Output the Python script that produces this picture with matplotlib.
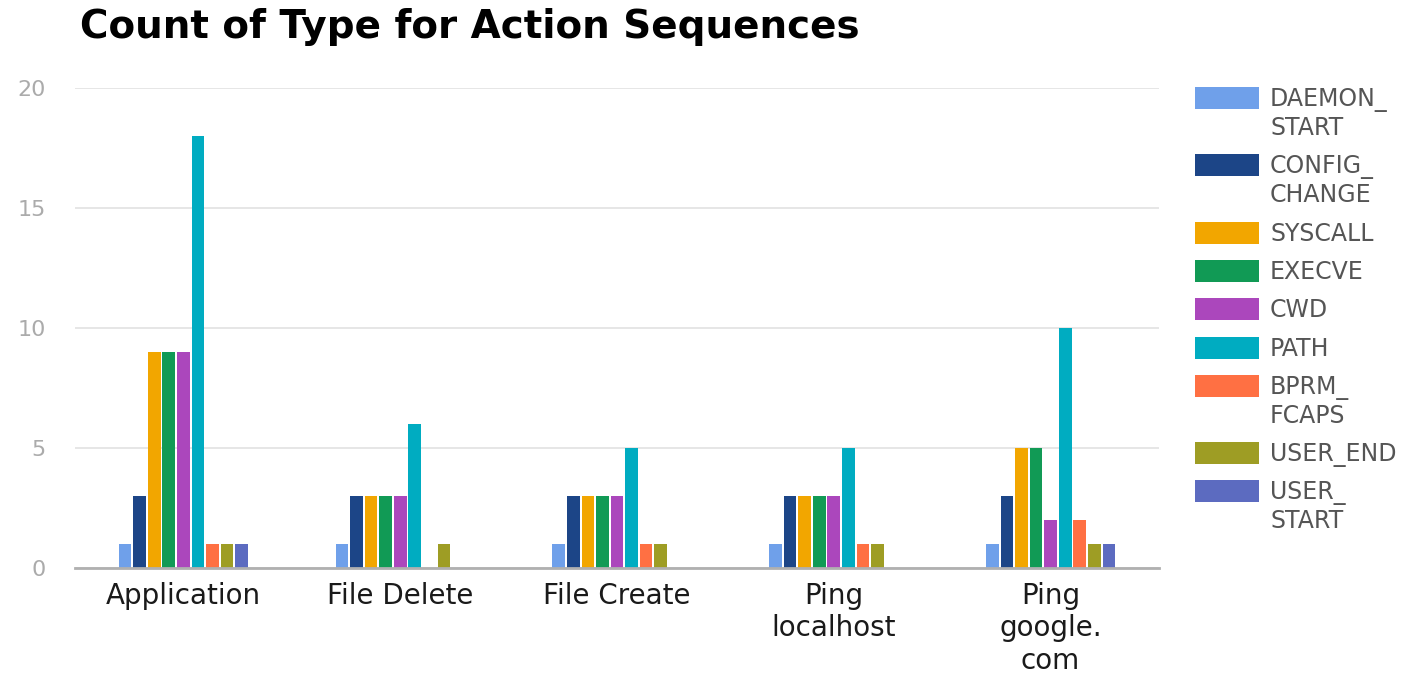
import numpy as np
import matplotlib
matplotlib.use("Agg")
import matplotlib.pyplot as plt
from matplotlib.patches import Rectangle

plt.rcParams['font.family'] = ['DejaVu Sans']

# --- data -------------------------------------------------------------
categories = ["Application", "File Delete", "File Create",
              "Ping\nlocalhost", "Ping\ngoogle.\ncom"]
series_names = ["DAEMON_START", "CONFIG_CHANGE", "SYSCALL", "EXECVE",
                "CWD", "PATH", "BPRM_FCAPS", "USER_END", "USER_START"]
legend_labels = ["DAEMON_\nSTART", "CONFIG_\nCHANGE", "SYSCALL", "EXECVE",
                 "CWD", "PATH", "BPRM_\nFCAPS", "USER_END", "USER_\nSTART"]

daemon_start  = [1, 1, 1, 1, 1]
config_change = [3, 3, 3, 3, 3]
syscall       = [9, 3, 3, 3, 5]
execve        = [9, 3, 3, 3, 5]
cwd           = [9, 3, 3, 3, 2]
path          = [18, 6, 5, 5, 10]
bprm_fcaps    = [1, 0, 1, 1, 2]
user_end      = [1, 1, 1, 1, 1]
user_start    = [1, 0, 0, 0, 1]

series_values = [daemon_start, config_change, syscall, execve, cwd,
                 path, bprm_fcaps, user_end, user_start]
y_ticks = [0, 5, 10, 15, 20]

colors = ["#6fa0ea", "#1c4587", "#f2a600", "#119a55", "#ab47bc",
          "#00acc1", "#ff7043", "#9e9d24", "#5c6bc0"]

title = "Count of Type for Action Sequences"

# --- figure -----------------------------------------------------------
W, H = 1426, 676
fig = plt.figure(figsize=(W / 100, H / 100), dpi=100)
fig.patch.set_facecolor("white")

ax_left, ax_right, ax_top, ax_bottom = 75, 1159, 88, 568
ax = fig.add_axes([ax_left / W, 1 - ax_bottom / H,
                   (ax_right - ax_left) / W, (ax_bottom - ax_top) / H])

n_series = len(series_values)
slot = 0.0672
x = np.arange(len(categories))
for i, (vals, c) in enumerate(zip(series_values, colors)):
    offs = (i - (n_series - 1) / 2) * slot
    ax.bar(x + offs, vals, width=slot * 0.87, color=c, zorder=3)

ax.set_xlim(-0.5, len(categories) - 0.5)
ax.set_ylim(0, 20)
ax.set_yticks(y_ticks)
ax.set_yticklabels([str(t) for t in y_ticks])
ax.yaxis.grid(True, color="#e2e2e2", linewidth=1.2, zorder=0)
ax.set_axisbelow(True)
for side in ("top", "right", "left"):
    ax.spines[side].set_visible(False)
ax.spines["bottom"].set_color("#b0b0b0")
ax.spines["bottom"].set_linewidth(2)
ax.spines["bottom"].set_zorder(4)

ax.set_xticks(x)
ax.set_xticklabels(categories, fontsize=20, color="#1a1a1a", linespacing=1.2)
ax.tick_params(axis="x", length=0, pad=10)
ax.tick_params(axis="y", length=0, pad=21, labelsize=16, labelcolor="#ababab")

# --- title ------------------------------------------------------------
fig.text(80 / W, 1 - 38 / H, title, fontsize=28, fontweight="bold",
         color="#000000", ha="left", va="baseline")

# --- legend -----------------------------------------------------------
sw_x0, sw_x1, sw_h = 1195, 1259, 22
row_step, line_step = 38.3, 29
yc = 98
for lab, c in zip(legend_labels, colors):
    fig.patches.append(Rectangle(((sw_x0) / W, 1 - (yc + sw_h / 2) / H),
                                 (sw_x1 - sw_x0) / W, sw_h / H,
                                 transform=fig.transFigure, facecolor=c,
                                 edgecolor="none"))
    lines = lab.split("\n")
    for j, ln in enumerate(lines):
        fig.text(1270 / W, 1 - (yc + 8 + j * line_step) / H, ln,
                 fontsize=17, color="#555555", ha="left", va="baseline")
    yc += row_step + (len(lines) - 1) * line_step

fig.savefig("out.png", dpi=100, facecolor="white")
